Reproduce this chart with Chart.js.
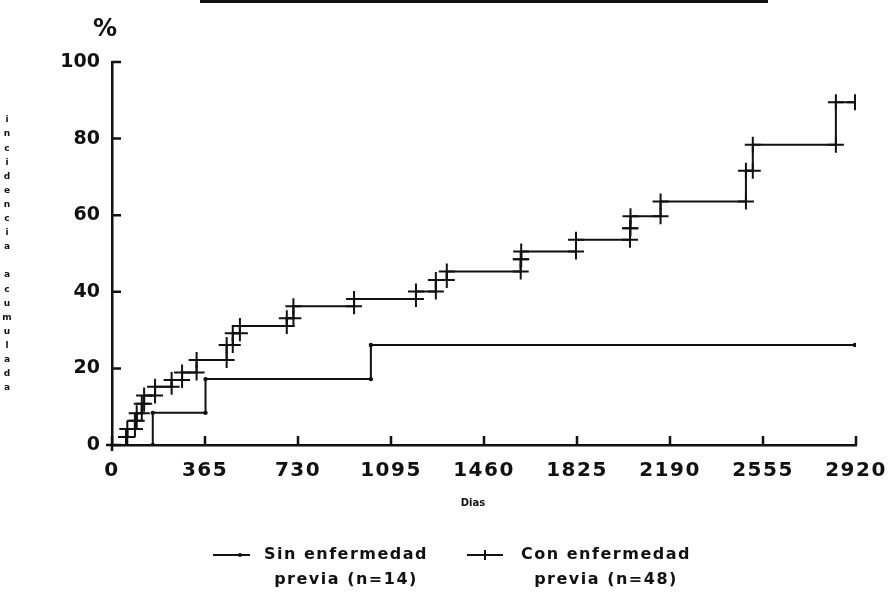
<!DOCTYPE html>
<html>
<head>
<meta charset="utf-8">
<script src="https://cdn.jsdelivr.net/npm/chart.js@4.4.0/dist/chart.umd.min.js"></script>
<style>
  html, body { margin: 0; padding: 0; background: #fff; }
  #wrap { position: relative; width: 890px; height: 605px; }
  #topRule { position: absolute; left: 200px; top: 0; width: 568px; height: 3px; background: #111; }
</style>
</head>
<body>
<div id="wrap">
  <canvas id="c" width="890" height="605"></canvas>
  <div id="topRule"></div>
</div>
<script>
// Cumulative incidence (%) by days of follow-up, two groups.
// Each event: day of the step and the cumulative % after it.
const sinDays = [160, 367, 1016];
const sinPct  = [8.4, 17.2, 26.1];
const sinEnd  = 2916;

const conDays = [55, 60, 90, 97, 117, 126, 169, 234, 275, 332, 450, 474, 502, 686, 712,
                 950, 1193, 1271, 1314, 1604, 1606, 1821, 2033, 2035, 2153, 2488, 2515, 2841];
const conPct  = [2.1, 4.2, 6.3, 8.3, 10.8, 12.9, 15.2, 17.0, 18.9, 22.2, 26.1, 29.2, 31.1, 33.1, 36.2,
                 38.1, 40.1, 43.1, 45.3, 48.5, 50.5, 53.6, 56.6, 59.7, 63.6, 71.6, 78.4, 89.5];
const conEnd  = 2916;

const xTicks = [0, 365, 730, 1095, 1460, 1825, 2190, 2555, 2920];
const yTicks = [0, 20, 40, 60, 80, 100];

const sinLabel = ['Sin enfermedad', 'previa (n=14)'];
const conLabel = ['Con enfermedad', 'previa (n=48)'];
const yTitle = 'incidencia acumulada';
const xTitle = 'Dias';

const INK = '#111';
const FONT = "'DejaVu Sans', sans-serif";

// corner points of a step curve, so every corner gets a marker
function stepPath(days, pct, end) {
  const pts = [{ x: 0, y: 0 }];
  let prev = 0;
  days.forEach((d, i) => {
    pts.push({ x: d, y: prev });
    pts.push({ x: d, y: pct[i] });
    prev = pct[i];
  });
  pts.push({ x: end, y: prev });
  return pts;
}

// tick marks pointing into the plot, plus short stubs at the origin
const innerTicks = {
  id: 'innerTicks',
  beforeDraw(chart) {
    // day labels are set a little wider than the % labels
    const sx = chart.scales.x;
    if (!sx._wideLabels) {
      const orig = sx.drawLabels.bind(sx);
      sx.drawLabels = (area) => {
        chart.ctx.save();
        chart.ctx.letterSpacing = '1.5px';
        orig(area);
        chart.ctx.restore();
      };
      sx._wideLabels = true;
    }
  },
  afterDraw(chart) {
    const { ctx, scales: { x, y } } = chart;
    ctx.save();
    ctx.strokeStyle = INK;
    ctx.lineWidth = 2.5;
    ctx.beginPath();
    x.ticks.forEach((t) => {
      const px = x.getPixelForValue(t.value);
      ctx.moveTo(px, y.bottom);
      ctx.lineTo(px, y.bottom - 9);
    });
    y.ticks.forEach((t) => {
      const py = y.getPixelForValue(t.value);
      ctx.moveTo(x.left, py);
      ctx.lineTo(x.left + 9, py);
    });
    ctx.moveTo(x.left - 6, y.bottom);
    ctx.lineTo(x.left, y.bottom);
    ctx.moveTo(x.left, y.bottom);
    ctx.lineTo(x.left, y.bottom + 6);
    ctx.stroke();
    ctx.restore();
  }
};

// "%" above the axis, the stacked upright axis title and the day caption
const axisText = {
  id: 'axisText',
  afterDraw(chart) {
    const { ctx } = chart;
    ctx.save();
    ctx.fillStyle = INK;
    ctx.textAlign = 'center';
    ctx.textBaseline = 'middle';
    ctx.font = 'bold 24px ' + FONT;
    ctx.fillText('%', 105, 30);
    ctx.font = 'bold 9px ' + FONT;
    [...yTitle].forEach((ch, i) => ctx.fillText(ch, 7, 120 + i * 14.1));
    ctx.font = 'bold 10px ' + FONT;
    ctx.fillText(xTitle, 473, 503);
    ctx.restore();
  }
};

// two-line legend under the plot
const stackedLegend = {
  id: 'stackedLegend',
  afterDraw(chart, args, opts) {
    const { ctx } = chart;
    ctx.save();
    chart.data.datasets.forEach((ds, i) => {
      const it = opts.items[i];
      ctx.strokeStyle = INK;
      ctx.lineWidth = 2;
      ctx.beginPath();
      ctx.moveTo(it.x0, it.y);
      ctx.lineTo(it.x1, it.y);
      ctx.stroke();
      if (ds.pointStyle === 'cross') {
        ctx.beginPath();
        ctx.moveTo(it.mx, it.y - 5);
        ctx.lineTo(it.mx, it.y + 5);
        ctx.stroke();
      } else {
        ctx.fillStyle = INK;
        ctx.beginPath();
        ctx.arc(it.mx, it.y, 2, 0, Math.PI * 2);
        ctx.fill();
      }
      ctx.fillStyle = INK;
      ctx.font = 'bold 16px ' + FONT;
      ctx.letterSpacing = '1.5px';
      ctx.textAlign = 'center';
      ctx.textBaseline = 'middle';
      ds.label.forEach((line, k) => ctx.fillText(line, it.tx, it.y + k * 25));
    });
    ctx.restore();
  }
};

new Chart(document.getElementById('c'), {
  type: 'line',
  data: {
    datasets: [
      {
        label: sinLabel,
        data: stepPath(sinDays, sinPct, sinEnd),
        borderColor: INK,
        borderWidth: 2,
        tension: 0,
        pointStyle: 'circle',
        pointRadius: (c) => (c.dataIndex === 0 ? 0 : 2.2),
        pointBackgroundColor: INK,
        pointBorderColor: INK,
        pointBorderWidth: 0
      },
      {
        label: conLabel,
        data: stepPath(conDays, conPct, conEnd),
        borderColor: INK,
        borderWidth: 2,
        tension: 0,
        pointStyle: 'cross',
        pointRadius: (c) => (c.dataIndex === 0 ? 0 : 8),
        pointBorderColor: INK,
        pointBorderWidth: 2
      }
    ]
  },
  options: {
    responsive: false,
    devicePixelRatio: 1,
    animation: false,
    layout: { padding: { top: 62, right: 34, left: 0, bottom: 0 } },
    plugins: {
      legend: { display: false },
      tooltip: { enabled: false },
      stackedLegend: {
        items: [
          { x0: 213, x1: 250, mx: 240, y: 555, tx: 346 },
          { x0: 467, x1: 503, mx: 485, y: 555, tx: 606 }
        ]
      }
    },
    scales: {
      x: {
        type: 'linear',
        min: 0,
        max: 2920,
        afterBuildTicks: (s) => { s.ticks = xTicks.map((v) => ({ value: v })); },
        afterFit: (s) => { s.height = 160; s.paddingLeft = 0; s.paddingRight = 0; },
        grid: { drawOnChartArea: false, drawTicks: false },
        border: { color: INK, width: 2.5 },
        ticks: {
          color: INK,
          padding: 14,
          maxRotation: 0,
          autoSkip: false,
          callback: (v) => String(v),
          font: { family: FONT, size: 20, weight: 'bold' }
        }
      },
      y: {
        min: 0,
        max: 100,
        afterBuildTicks: (s) => { s.ticks = yTicks.map((v) => ({ value: v })); },
        afterFit: (s) => { s.width = 112; s.paddingTop = 0; s.paddingBottom = 0; },
        grid: { drawOnChartArea: false, drawTicks: false },
        border: { color: INK, width: 2.5 },
        ticks: {
          color: INK,
          padding: 12,
          callback: (v) => String(v),
          font: { family: FONT, size: 19, weight: 'bold' }
        }
      }
    }
  },
  plugins: [innerTicks, axisText, stackedLegend]
});
</script>
</body>
</html>
